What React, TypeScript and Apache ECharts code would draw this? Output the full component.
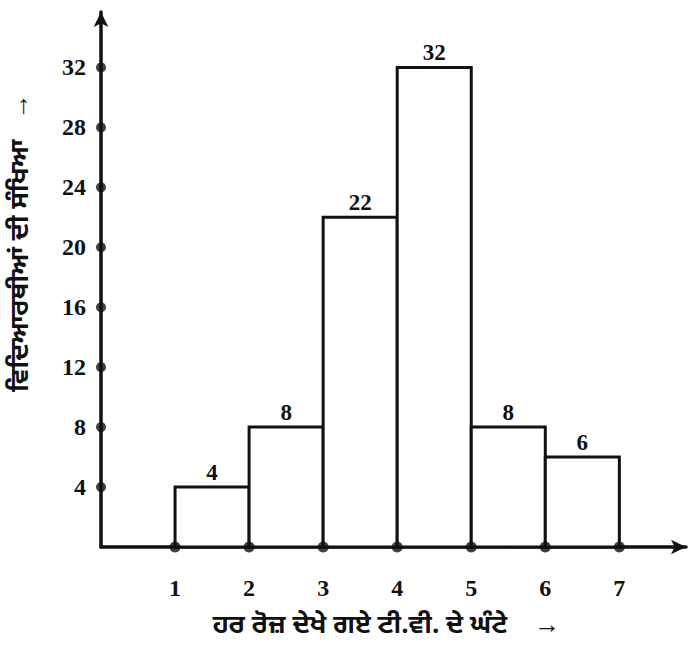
import React, { useEffect, useRef } from "react";
import * as echarts from "echarts";

const binStarts = [1, 2, 3, 4, 5, 6];
const binEnds = [2, 3, 4, 5, 6, 7];
const counts = [4, 8, 22, 32, 8, 6];
const xTicks = [1, 2, 3, 4, 5, 6, 7];
const yTicks = [4, 8, 12, 16, 20, 24, 28, 32];
const xName = "ਹਰ ਰੋਜ਼ ਦੇਖੇ ਗਏ ਟੀ.ਵੀ. ਦੇ ਘੰਟੇ    →";
const yName = "ਵਿਦਿਆਰਥੀਆਂ ਦੀ ਸੰਖਿਆ   →";

export default function App() {
  const ref = useRef<HTMLDivElement>(null);
  useEffect(() => {
    const chart = echarts.init(ref.current!, null, { renderer: "svg" });
    const numFont = { fontFamily: "Liberation Serif, serif", fontWeight: "bold", fontSize: 24, color: "#111" };
    chart.setOption({
      animation: false,
      backgroundColor: "#fff",
      grid: { left: 101, top: 12, right: 3, bottom: 100, outerBoundsMode: "none", containLabel: false },
      xAxis: {
        type: "value",
        min: 0,
        max: 7.9,
        interval: 1,
        axisLine: { show: true, onZero: false, symbol: ["none", "arrow"], symbolSize: [11, 15], lineStyle: { color: "#111", width: 3.5 } },
        axisTick: { show: false },
        splitLine: { show: false },
        axisLabel: { ...numFont, margin: 29, showMinLabel: false, showMaxLabel: false },
        name: xName,
        nameLocation: "middle",
        nameGap: 66,
        nameTextStyle: { fontFamily: "Noto Sans Gurmukhi, Noto Sans, sans-serif", fontSize: 26, lineHeight: 27, fontWeight: "bold", color: "#111", padding: [0, 14, 0, 0] },
      },
      yAxis: {
        type: "value",
        min: 0,
        max: 35.7,
        interval: 4,
        axisLine: { show: true, onZero: false, symbol: ["none", "arrow"], symbolSize: [11, 15], lineStyle: { color: "#111", width: 3.5 } },
        axisTick: { show: false },
        splitLine: { show: false },
        axisLabel: { ...numFont, margin: 15, showMinLabel: false, showMaxLabel: false },
        name: yName,
        nameLocation: "middle",
        nameGap: 66,
        nameRotate: 90,
        nameTextStyle: { fontFamily: "Noto Sans Gurmukhi, Noto Sans, sans-serif", fontSize: 26, lineHeight: 27, fontWeight: "bold", color: "#111", padding: [0, 0, 0, 74] },
      },
      series: [
        {
          type: "custom",
          data: counts.map((c, i) => [binStarts[i], binEnds[i], c]),
          renderItem: (params: any, api: any) => {
            const p0 = api.coord([api.value(0), api.value(2)]);
            const p1 = api.coord([api.value(1), 0]);
            return {
              type: "group",
              children: [
                {
                  type: "rect",
                  shape: { x: p0[0], y: p0[1], width: p1[0] - p0[0], height: p1[1] - p0[1] },
                  style: { fill: "#fff", stroke: "#111", lineWidth: 3 },
                },
                {
                  type: "text",
                  x: (p0[0] + p1[0]) / 2,
                  y: p0[1] - 3,
                  style: {
                    text: String(api.value(2)),
                    align: "center",
                    verticalAlign: "bottom",
                    font: "bold 23px 'Liberation Serif', serif",
                    fill: "#111",
                  },
                },
              ],
            };
          },
          z: 2,
        },
        {
          type: "scatter",
          data: xTicks.map((t) => [t, 0]),
          symbol: "circle",
          symbolSize: 11,
          itemStyle: { color: "#111" },
          clip: false,
          z: 5,
        },
        {
          type: "scatter",
          data: yTicks.map((t) => [0, t]),
          symbol: "circle",
          symbolSize: 10,
          itemStyle: { color: "#111" },
          clip: false,
          z: 5,
        },
      ],
    });
    return () => chart.dispose();
  }, []);
  return <div ref={ref} style={{ position: "fixed", left: 0, top: 0, width: 689, height: 647 }} />;
}
